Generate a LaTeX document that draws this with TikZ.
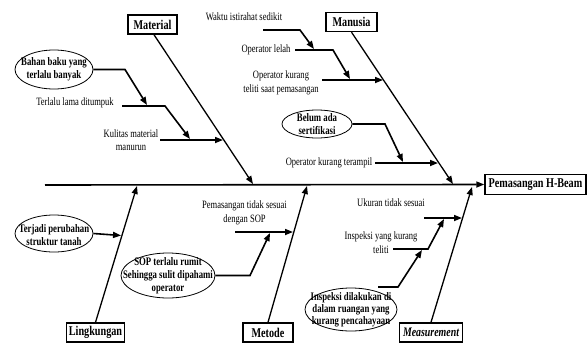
\documentclass[tikz,border=0pt]{standalone}
\usepackage{fontspec}
\setmainfont{Liberation Serif}[FakeStretch=0.76]
\usetikzlibrary{arrows.meta,shapes.geometric}
\begin{document}
\begin{tikzpicture}[x=1pt,y=-1pt,
  box/.style={draw, line width=1.4pt, inner sep=0pt, font=\fontsize{13.4}{15}\selectfont\bfseries, minimum height=19pt},
  oval/.style={draw, ellipse, line width=0.8pt, inner sep=0pt},
  otext/.style={align=center, font=\fontsize{11.5}{13}\selectfont\bfseries, inner sep=0pt},
  lbl/.style={align=center, font=\fontsize{11.2}{13.5}\selectfont, inner sep=0pt},
  bone/.style={line width=1.3pt, -{Triangle[length=8pt,width=6pt]}},
  sub/.style={line width=1.6pt, -{Triangle[length=8pt,width=6pt]}}
]
\useasboundingbox (0,0) rectangle (587,343);

% category boxes
\node[box, minimum width=49pt] (mat) at (152.5,24.5) {Material};
\node[box, minimum width=51pt] (man) at (351.5,22) {Manusia};
\node[box, minimum width=101pt, minimum height=20pt] (pem) at (535.5,184.5) {Pemasangan H-Beam};
\node[box, minimum width=58pt] (lin) at (95.5,332.5) {Lingkungan};
\node[box, minimum width=50pt] (met) at (268,332.5) {Metode};
\node[box, minimum width=63pt, font=\fontsize{13}{15}\selectfont\bfseries\itshape] (mea) at (431,332.5) {Measurement};

% spine
\coordinate (s0) at (45,185);
\draw[line width=1.6pt, -{Triangle[length=8pt,width=6pt]}] (s0) -- (pem.west);

% bones
\coordinate (tMat) at (253,184);
\coordinate (tMan) at (453,184);
\coordinate (tLin) at (137,186);
\coordinate (tMet) at (307,186);
\coordinate (tMea) at (472,187);
\draw[bone] ([xshift=1.5pt]mat.south) -- (tMat);
\draw[bone] (man.south) -- (tMan);
\draw[bone] (lin.north) -- (tLin);
\draw[bone] (met.north) -- (tMet);
\draw[bone] (mea.north) -- (tMea);

% ---- Material causes
\node[oval, minimum width=78pt, minimum height=39pt] (e1) at (54,69.5) {};
\node[otext] (e1t) at (e1) {Bahan baku yang\\terlalu banyak};
\coordinate (a1) at (125,69.5);
\coordinate (a1e) at (147,105);
\draw[sub] (e1.east) -- (a1) -- (a1e);

\node[lbl] (t1) at (75,103) {Terlalu lama ditumpuk};
\coordinate (b1s) at (122,106);
\coordinate (b1) at (165,106);
\coordinate (b1e) at (190,139);
\draw[sub] (b1s) -- (b1) -- (b1e);

\node[lbl] (t2) at (131,140) {Kulitas material\\manurun};
\coordinate (c1s) at (160,140);
\coordinate (c1e) at (223,140);
\draw[sub] (c1s) -- (c1e);

% ---- Manusia causes
\node[lbl] (t3) at (244,17) {Waktu istirahat sedikit};
\coordinate (d1s) at (263,30);
\coordinate (d1) at (300,30);
\coordinate (d1e) at (314,49);
\draw[sub] (d1s) -- (d1) -- (d1e);

\node[lbl] (t4) at (266,50) {Operator lelah};
\coordinate (f1s) at (295,50);
\coordinate (f1) at (333,50);
\coordinate (f1e) at (350,79);
\draw[sub] (f1s) -- (f1) -- (f1e);

\node[lbl] (t5) at (281,83) {Operator kurang\\teliti saat pemasangan};
\coordinate (g1s) at (322,80);
\coordinate (g1e) at (383,80);
\draw[sub] (g1s) -- (g1e);

\node[oval, minimum width=70pt, minimum height=28pt] (e2) at (317,124) {};
\node[otext] (e2t) at (e2) {Belum ada\\sertifikasi};
\coordinate (h1) at (385,124);
\coordinate (h1e) at (403,162);
\draw[sub] (e2.east) -- (h1) -- (h1e);

\node[lbl] (t6) at (329,163) {Operator kurang terampil};
\coordinate (i1s) at (375,163);
\coordinate (i1e) at (438,163);
\draw[sub] (i1s) -- (i1e);

% ---- Lingkungan causes
\node[oval, minimum width=78pt, minimum height=37pt] (e3) at (54,233.5) {};
\node[otext] (e3t) at (54,235) {Terjadi perubahan\\struktur tanah};
\coordinate (j1e) at (121,235.5);
\draw[sub] (e3.east) -- (j1e);

% ---- Metode causes
\node[lbl] (t7) at (244.5,213) {Pemasangan tidak sesuai\\dengan SOP};
\coordinate (k1s) at (235,232);
\coordinate (k1e) at (293,232);
\draw[sub] (k1s) -- (k1e);

\node[oval, minimum width=94pt, minimum height=45pt] (e4) at (168,275.5) {};
\node[otext] (e4t) at (e4) {SOP terlalu rumit\\Sehingga sulit dipahami\\operator};
\coordinate (l1) at (250,275.5);
\coordinate (l1e) at (270,233);
\draw[sub] (e4.east) -- (l1) -- (l1e);

% ---- Measurement causes
\node[lbl] (t8) at (391,203) {Ukuran tidak sesuai};
\coordinate (m1s) at (424,218);
\coordinate (m1e) at (462,218);
\draw[sub] (m1s) -- (m1e);

\node[lbl] (t9) at (381,242.5) {Inspeksi yang kurang\\teliti};
\coordinate (n1s) at (393,249);
\coordinate (n1) at (428,249);
\coordinate (n1e) at (444,219);
\draw[sub] (n1s) -- (n1) -- (n1e);

\node[oval, minimum width=92pt, minimum height=43pt] (e5) at (351,309.5) {};
\node[otext, font=\fontsize{11.5}{12}\selectfont\bfseries] (e5t) at (e5) {Inspeksi dilakukan di\\dalam ruangan yang\\kurang pencahayaan};
\coordinate (o1s) at (378,287);
\coordinate (o1) at (398,287);
\coordinate (o1e) at (422,250);
\draw[sub] (o1s) -- (o1) -- (o1e);
\end{tikzpicture}
\end{document}
